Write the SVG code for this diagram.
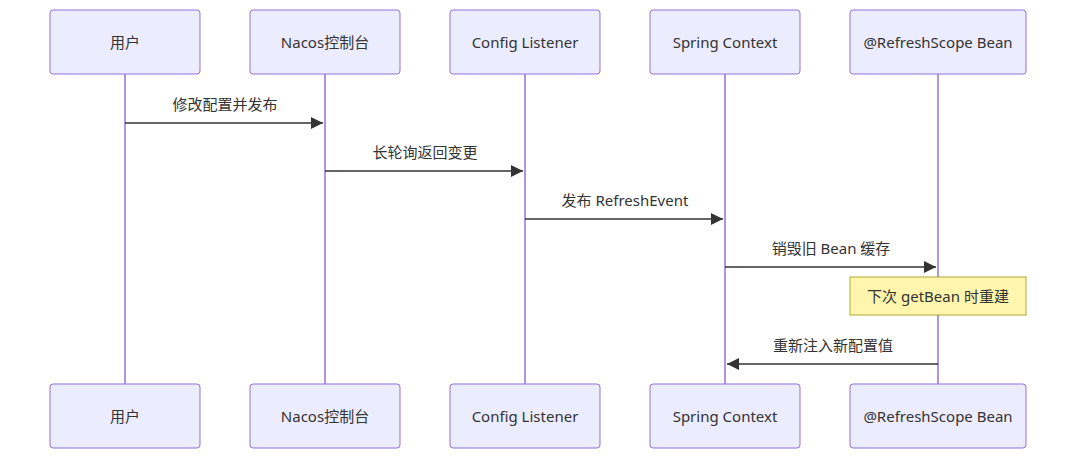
<svg xmlns="http://www.w3.org/2000/svg" width="1076" height="460" viewBox="0 0 1076 460">
<style>
.box{fill:#ECECFF;stroke:#9370DB;stroke-width:1}
.life{stroke:#9370DB;stroke-width:1.5}
.t{font-family:"Noto Sans","Noto Sans CJK SC",sans-serif;font-size:15px;fill:#333;text-anchor:middle;dominant-baseline:central}
.m{stroke:#333;stroke-width:1.5;fill:none}
</style>
<defs><marker id="a" viewBox="0 0 10 10" refX="10" refY="5" markerWidth="8" markerHeight="8" orient="auto"><path d="M0,0L10,5L0,10z" fill="#333"/></marker></defs>
<g id="lifelines">
<line class="life" x1="125" y1="74" x2="125" y2="384"/>
<line class="life" x1="325" y1="74" x2="325" y2="384"/>
<line class="life" x1="525" y1="74" x2="525" y2="384"/>
<line class="life" x1="725" y1="74" x2="725" y2="384"/>
<line class="life" x1="938" y1="74" x2="938" y2="384"/>
</g>
<g id="p1"><rect class="box" x="50" y="10" width="150" height="64" rx="3"/><text class="t" x="125" y="42">用户</text><rect class="box" x="50" y="384" width="150" height="64" rx="3"/><text class="t" x="125" y="416">用户</text></g>
<g id="p2"><rect class="box" x="250" y="10" width="150" height="64" rx="3"/><text class="t" x="325" y="42">Nacos控制台</text><rect class="box" x="250" y="384" width="150" height="64" rx="3"/><text class="t" x="325" y="416">Nacos控制台</text></g>
<g id="p3"><rect class="box" x="450" y="10" width="150" height="64" rx="3"/><text class="t" x="525" y="42">Config Listener</text><rect class="box" x="450" y="384" width="150" height="64" rx="3"/><text class="t" x="525" y="416">Config Listener</text></g>
<g id="p4"><rect class="box" x="650" y="10" width="150" height="64" rx="3"/><text class="t" x="725" y="42">Spring Context</text><rect class="box" x="650" y="384" width="150" height="64" rx="3"/><text class="t" x="725" y="416">Spring Context</text></g>
<g id="p5"><rect class="box" x="850" y="10" width="176" height="64" rx="3"/><text class="t" x="938" y="42">@RefreshScope Bean</text><rect class="box" x="850" y="384" width="176" height="64" rx="3"/><text class="t" x="938" y="416">@RefreshScope Bean</text></g>
<g id="note"><rect x="850" y="277" width="176" height="38" fill="#FFF5AD" stroke="#AAAA33"/><text class="t" x="938" y="296">下次 getBean 时重建</text></g>
<g id="connectors">
<line class="m" x1="125" y1="123" x2="323" y2="123" marker-end="url(#a)"/><text class="t" x="225" y="104">修改配置并发布</text>
<line class="m" x1="325" y1="171" x2="523" y2="171" marker-end="url(#a)"/><text class="t" x="425" y="152">长轮询返回变更</text>
<line class="m" x1="525" y1="219" x2="723" y2="219" marker-end="url(#a)"/><text class="t" x="625" y="200">发布 RefreshEvent</text>
<line class="m" x1="725" y1="267" x2="936" y2="267" marker-end="url(#a)"/><text class="t" x="831" y="248">销毁旧 Bean 缓存</text>
<line class="m" x1="938" y1="364" x2="727" y2="364" marker-end="url(#a)"/><text class="t" x="833" y="345">重新注入新配置值</text>
</g>
</svg>
